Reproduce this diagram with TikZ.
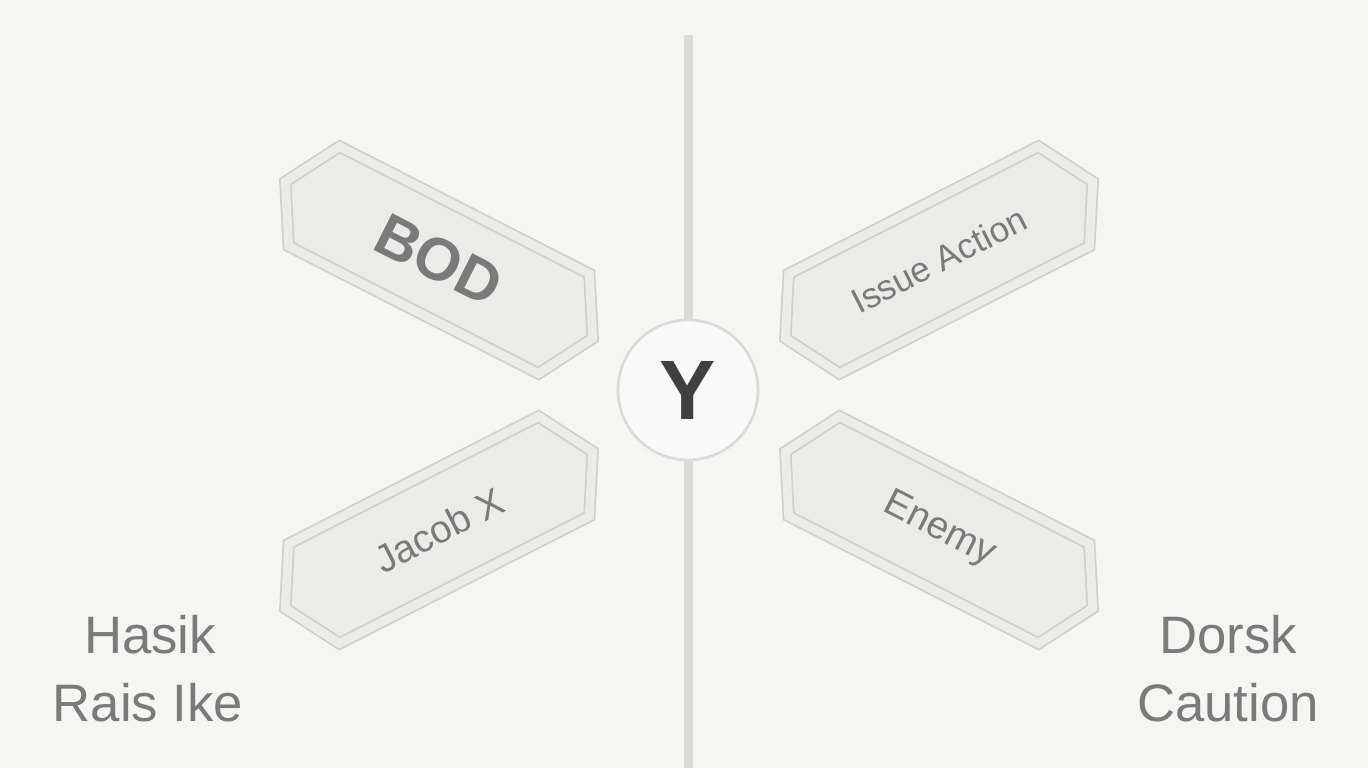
\documentclass[tikz,border=0pt]{standalone}
\usepackage{fontspec}
\setmainfont{Liberation Sans}
\usetikzlibrary{shapes.symbols}
\definecolor{bg}{HTML}{F5F6F2}
\definecolor{arrfill}{HTML}{EBEBE8}
\definecolor{arrline}{HTML}{CFCFCC}
\definecolor{txt}{HTML}{7A7A78}
\definecolor{axis}{HTML}{DADAD6}
\begin{document}
\begin{tikzpicture}[x=0.02cm,y=-0.02cm,
  sign/.style={shape=signal, signal to=east and west, signal pointer angle=120,
    minimum width=345*0.02cm, minimum height=112*0.02cm, inner sep=0pt,
    fill=arrfill, draw=arrline, line width=1pt, double=arrfill, double distance=5pt, text=txt},
  lab/.style={text=txt, font=\fontsize{30}{34}\selectfont, align=center}]
\fill[bg] (0,0) rectangle (1368,768);
\useasboundingbox (0,0) rectangle (1368,768);
\coordinate (top) at (688,35);
\coordinate (bot) at (688,768);
\draw[axis, line width=9*0.02cm] (top) -- (bot);
\node[circle, minimum size=140*0.02cm, fill=bg!60!white, draw=axis, line width=1.5pt,
  text=black!75, font=\fontsize{48}{50}\selectfont\bfseries] (hub) at (688,390) {Y};
\node[sign, rotate=-27, font=\fontsize{34}{36}\selectfont\bfseries] (tl) at (439,260) {BOD};
\node[sign, rotate=27, font=\fontsize{20}{22}\selectfont] (tr) at (939,260) {Issue Action};
\node[sign, rotate=27, font=\fontsize{22}{24}\selectfont] (bl) at (439,530) {Jacob X};
\node[sign, rotate=-27, font=\fontsize{22}{24}\selectfont] (br) at (939,530) {Enemy};
\node[lab] (l1) at (150,635) {Hasik};
\node[lab] (l2) at (148,703) {Rais Ike};
\node[lab] (r1) at (1228,635) {Dorsk};
\node[lab] (r2) at (1228,703) {Caution};
\end{tikzpicture}
\end{document}
